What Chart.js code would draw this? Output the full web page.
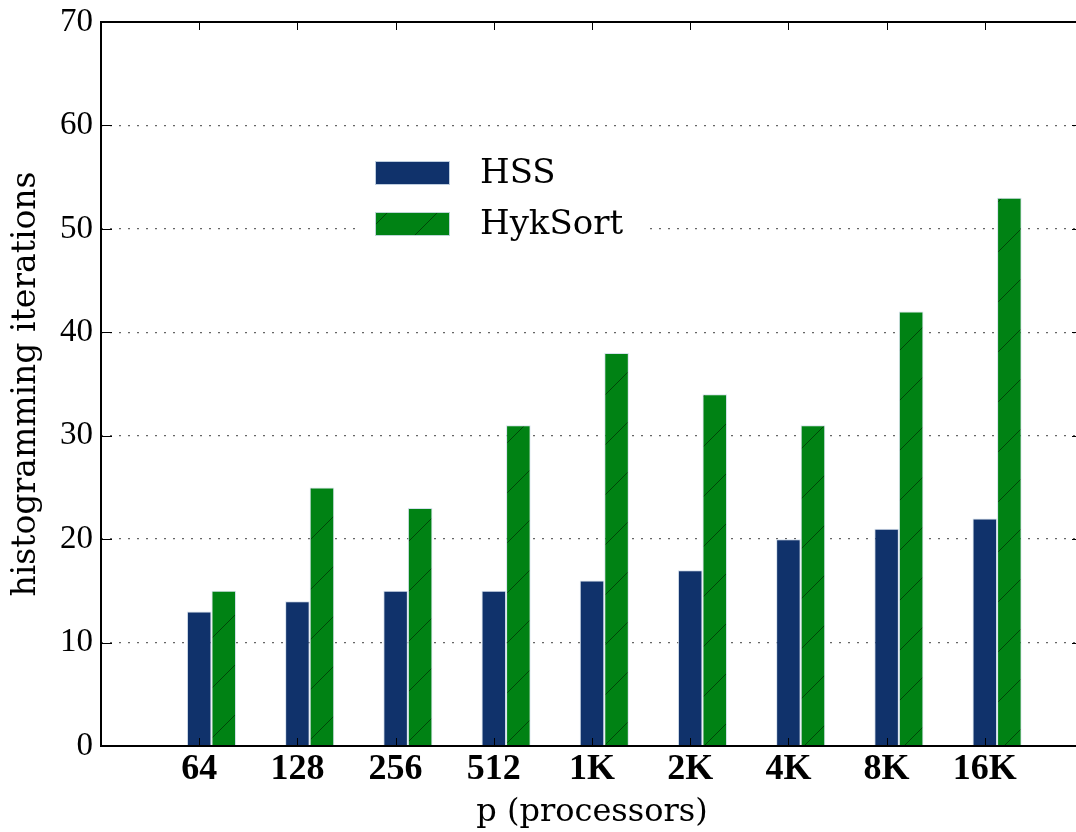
<!DOCTYPE html>
<html><head><meta charset="utf-8">
<script src="https://cdn.jsdelivr.net/npm/chart.js@4.4.0/dist/chart.umd.min.js"></script>
<style>html,body{margin:0;padding:0;background:#fff;overflow:hidden;width:1076px;height:832px}canvas{display:block}</style>
</head><body>
<canvas id="c" width="1100" height="832" style="width:1100px;height:832px"></canvas>
<script>
// ---- data ----
const categories = ['64', '128', '256', '512', '1K', '2K', '4K', '8K', '16K'];
const hssIterations = [13, 14, 15, 15, 16, 17, 20, 21, 22];
const hykSortIterations = [15, 25, 23, 31, 38, 34, 31, 42, 53];
const seriesLabels = ['HSS', 'HykSort'];
const yTickValues = [0, 10, 20, 30, 40, 50, 60, 70];
const xTitle = 'p (processors)';
const yTitle = 'histogramming iterations';

// ---- style / layout ----
const HSS_COLOR = '#10326b';
const HYK_COLOR = '#008214';
const BAR_EDGE = 'rgba(210,222,235,0.9)';
const BAR_W = 0.25;           // bar width in x units
const SERIF = '"DejaVu Serif", serif';
const NUM_SERIF = '"Liberation Serif", "Times New Roman", serif';

function hatchPattern(bg) {
  const c = document.createElement('canvas');
  c.width = 50; c.height = 50;
  const g = c.getContext('2d');
  g.fillStyle = bg; g.fillRect(0, 0, 50, 50);
  g.strokeStyle = 'rgba(0,30,0,0.6)';
  g.lineWidth = 1;
  g.beginPath();
  g.moveTo(-5, 55); g.lineTo(55, -5);
  g.stroke();
  return g.createPattern(c, 'repeat');
}
const hykFill = hatchPattern(HYK_COLOR);

const toPoints = vals => vals.map((v, i) => ({ x: i + 1, y: v }));

const framePlugin = {
  id: 'frame',
  afterDatasetsDraw(chart) {
    const { ctx, chartArea: a, scales: { x, y } } = chart;
    ctx.save();
    ctx.strokeStyle = '#000';
    ctx.lineWidth = 1;
    ctx.beginPath();
    yTickValues.forEach(v => {
      const py = Math.round(y.getPixelForValue(v)) + 0.5;
      ctx.moveTo(a.left, py); ctx.lineTo(a.left + 11, py);
      ctx.moveTo(a.right, py); ctx.lineTo(a.right - 11, py);
    });
    x.ticks.forEach(t => {
      const px = Math.round(x.getPixelForValue(t.value)) + 0.5;
      ctx.moveTo(px, a.top); ctx.lineTo(px, a.top + 8);
      ctx.moveTo(px, a.bottom); ctx.lineTo(px, a.bottom - 8);
    });
    ctx.stroke();
    ctx.lineWidth = 2;
    ctx.strokeRect(a.left, a.top, a.right - a.left, a.bottom - a.top);
    ctx.restore();
  },
  afterDraw(chart) {
    const { ctx } = chart;
    ctx.save();
    ctx.fillStyle = '#fff';
    ctx.fillRect(362, 147, 282, 104);
    const fills = [HSS_COLOR, hykFill];
    chart.data.datasets.forEach((ds, i) => {
      const by = 161 + i * 51;
      ctx.fillStyle = fills[i];
      ctx.fillRect(375, by, 75, 24);
      ctx.strokeStyle = BAR_EDGE; ctx.lineWidth = 1;
      ctx.strokeRect(375.5, by + 0.5, 74, 23);
      ctx.fillStyle = '#000';
      ctx.font = '34px ' + SERIF;
      ctx.textBaseline = 'middle';
      ctx.textAlign = 'left';
      ctx.fillText(ds.label, 480, by + 13);
    });
    ctx.restore();
  }
};

new Chart(document.getElementById('c'), {
  type: 'bar',
  data: {
    datasets: [
      { label: seriesLabels[0], data: toPoints(hssIterations), backgroundColor: HSS_COLOR,
        borderColor: BAR_EDGE, borderWidth: 1 },
      { label: seriesLabels[1], data: toPoints(hykSortIterations), backgroundColor: hykFill,
        borderColor: BAR_EDGE, borderWidth: 1 }
    ]
  },
  options: {
    responsive: false,
    animation: false,
    layout: { padding: { top: 22, right: 17, left: 0, bottom: 0 } },
    datasets: { bar: { categoryPercentage: 2 * BAR_W, barPercentage: 1 } },
    plugins: { legend: { display: false }, tooltip: { enabled: false } },
    scales: {
      x: {
        type: 'linear',
        offset: false,
        min: -BAR_W / 2,
        max: 10 - BAR_W / 2,
        afterBuildTicks: s => { s.ticks = categories.map((c, i) => ({ value: i + 1 - BAR_W / 2 })); },
        afterFit: s => { s.height = 86; s.paddingLeft = 0; s.paddingRight = 0; },
        grid: { display: false, drawTicks: false, offset: false },
        border: { display: false },
        ticks: {
          autoSkip: false, maxRotation: 0, padding: 2, color: '#000',
          font: { family: NUM_SERIF, size: 36, weight: 'bold' },
          callback: (v, i) => categories[i]
        },
        title: { display: true, text: xTitle, color: '#000',
          font: { family: SERIF, size: 32 }, padding: { bottom: 0, top: 0 } }
      },
      y: {
        min: 0, max: 70,
        afterBuildTicks: s => { s.ticks = yTickValues.map(v => ({ value: v })); },
        afterFit: s => { s.width = 101; },
        grid: {
          drawTicks: false, lineWidth: 1.3,
          color: c => (c.tick && (c.tick.value === 0 || c.tick.value === 70)) ? 'rgba(0,0,0,0)' : '#666'
        },
        border: { display: false, dash: [2, 7] },
        ticks: { padding: 8, color: '#000', font: { family: NUM_SERIF, size: 33, lineHeight: 0.8 } },
        title: { display: true, text: yTitle, color: '#000',
          font: { family: SERIF, size: 33 }, padding: { top: 7, bottom: 0 } }
      }
    }
  },
  plugins: [framePlugin]
});
</script>
</body></html>
